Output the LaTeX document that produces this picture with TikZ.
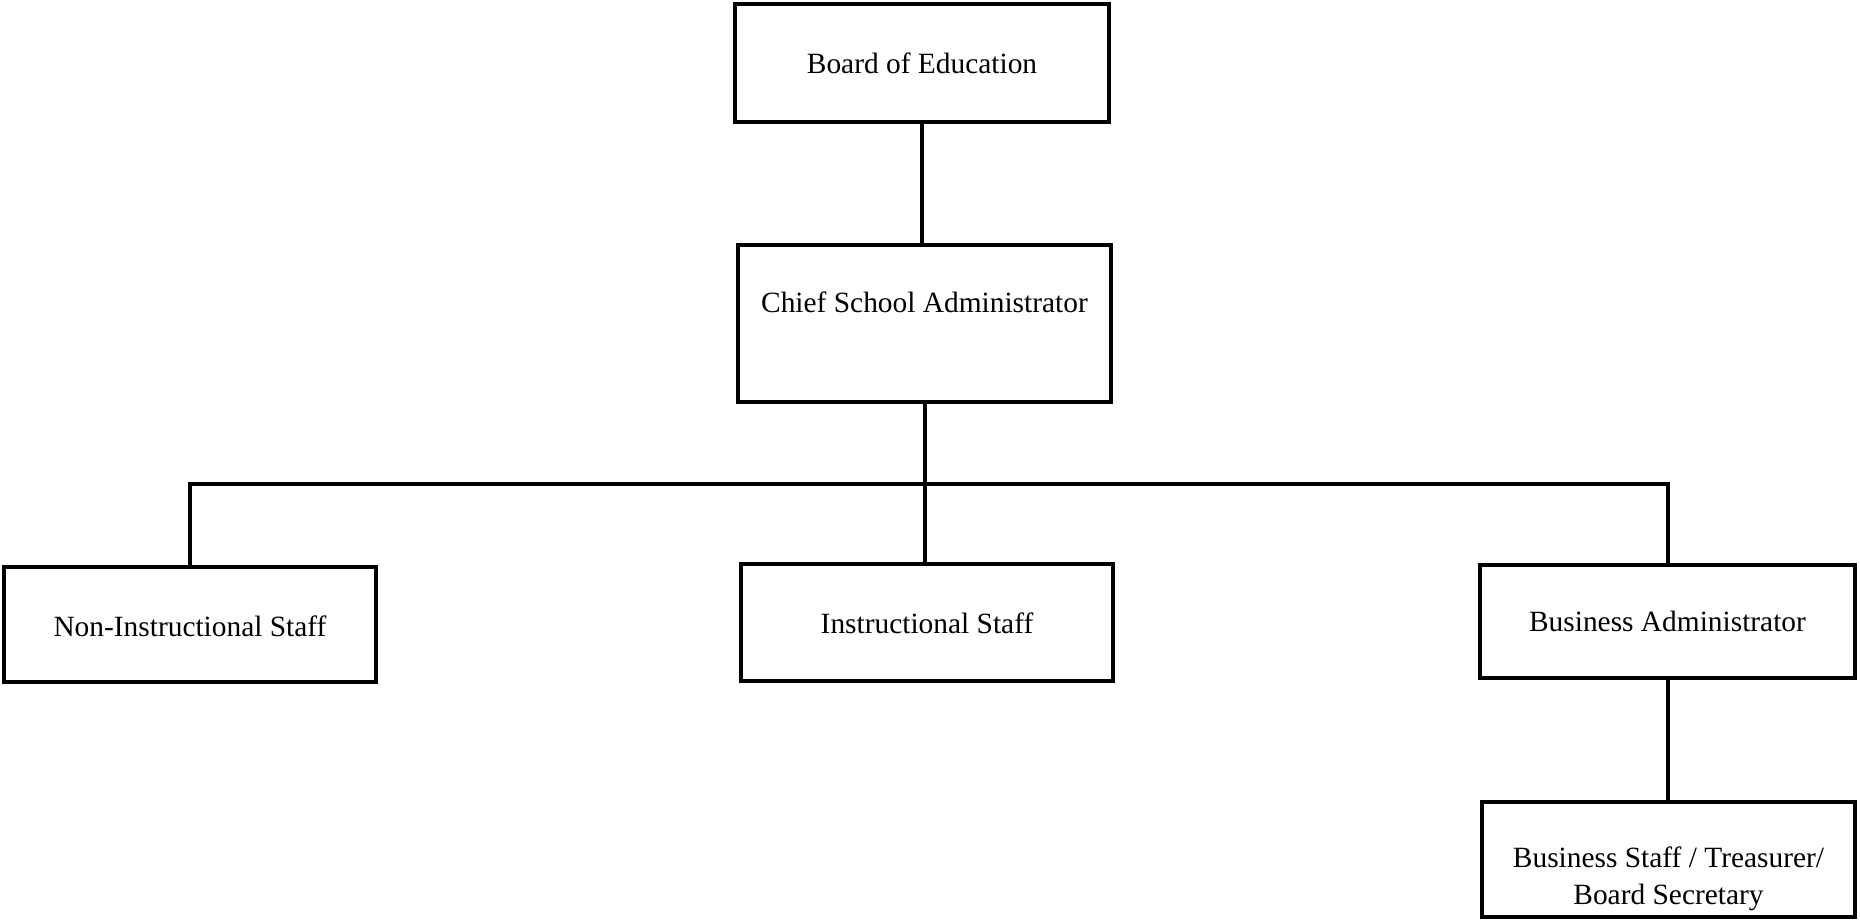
\documentclass[tikz,border=0pt]{standalone}
\usepackage{fontspec}
\setmainfont{Liberation Serif}
\begin{document}
\begin{tikzpicture}[x=0.5pt,y=-0.5pt,
  box/.style={draw=black, line width=2pt, rectangle, inner sep=0pt, fill=white},
  lbl/.style={font=\fontsize{14.7}{18.5}\selectfont, align=center, inner sep=0pt},
  conn/.style={draw=black, line width=2pt}]
\useasboundingbox[fill=white] (0,0) rectangle (1860,923);
\node[box, minimum width=374pt*0.5, minimum height=118pt*0.5] (board) at (922,63) {};
\node[box, minimum width=373pt*0.5, minimum height=157pt*0.5] (chief) at (924.5,323.5) {};
\node[box, minimum width=372pt*0.5, minimum height=115pt*0.5] (nonins) at (190,624.5) {};
\node[box, minimum width=372pt*0.5, minimum height=117pt*0.5] (ins) at (927,622.5) {};
\node[box, minimum width=375pt*0.5, minimum height=113pt*0.5] (busadm) at (1667.5,621.5) {};
\node[box, minimum width=373pt*0.5, minimum height=115pt*0.5] (busstaff) at (1668.5,859.5) {};
\node[lbl] (tboard) at (922,63) {Board of Education};
\node[lbl] (tchief) at (924.5,302) {Chief School Administrator};
\node[lbl] (tnonins) at (190,626) {Non-Instructional Staff};
\node[lbl] (tins) at (927,623) {Instructional Staff};
\node[lbl] (tbusadm) at (1667.5,621) {Business Administrator};
\node[lbl] (tbusstaff) at (1668.5,879) {Business Staff / Treasurer/\\Board Secretary};
\coordinate (bar) at (0,484);
\draw[conn] (board.south) -- (board.south |- chief.north);
\draw[conn] (chief.south) -- (chief.south |- ins.north);
\draw[conn] (nonins.north) -- (nonins.north |- bar) -- (busadm.north |- bar) -- (busadm.north);
\draw[conn] (busadm.south) -- (busadm.south |- busstaff.north);
\end{tikzpicture}
\end{document}
